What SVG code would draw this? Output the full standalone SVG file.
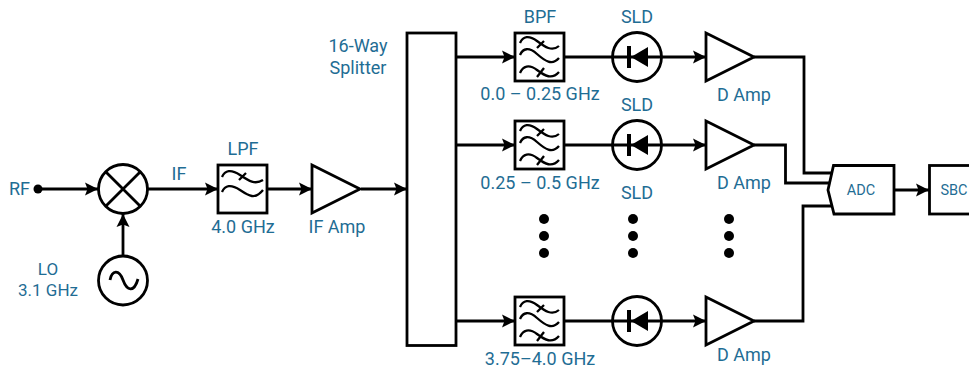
<svg xmlns="http://www.w3.org/2000/svg" width="969" height="369" viewBox="0 0 969 369">
<defs>
<marker id="arr" markerUnits="userSpaceOnUse" markerWidth="14" markerHeight="14" refX="13" refY="7" orient="auto"><path d="M0 0.500L13 7L0 13.500L2.500 7Z" fill="#000"/></marker>
<g id="bpf"><rect x="0" y="0" width="49" height="48" class="s"/><path class="l" d="M5 10C8 3 14 2 22 8S37 19 44 13M22 15L29 8M5 22C8 15 14 14 22 21S37 33 44 25M5 40C8 33 14 31 22 37S37 47 44 39M22 44L29 35"/></g>
<g id="sld"><circle cx="0" cy="0" r="24.500" class="n"/><path d="M-8-11V11" class="t"/><path d="M11-10V10L-6 0Z" fill="#000"/></g>
<g id="amp"><path d="M0-24V24L48 0Z" class="s"/></g>
</defs>
<style>
.s{fill:#fff;stroke:#000;stroke-width:2.800}
.n{fill:none;stroke:#000;stroke-width:2.800}
.l{fill:none;stroke:#000;stroke-width:2.300}
.t{fill:none;stroke:#000;stroke-width:4}
.c{fill:none;stroke:#000;stroke-width:2.800}
.a{marker-end:url(#arr)}
text{font-family:Roboto,"Noto Sans",sans-serif;font-size:18px;fill:#1f6d94;text-anchor:middle}
.m{font-size:14.500px}
.o{font-size:17px}
</style>
<rect width="969" height="369" fill="#fff"/>
<g id="connectors">
<path class="c a" d="M38 189H98"/>
<path class="c a" d="M147 189H218"/>
<path class="c a" d="M123 256V214"/>
<path class="c a" d="M267 189H312"/>
<path class="c a" d="M361 189H407"/>
<path class="c a" d="M456 57H515"/>
<path class="c a" d="M456 145H515"/>
<path class="c a" d="M456 321H515"/>
<path class="c a" d="M564 57H706"/>
<path class="c a" d="M564 145H706"/>
<path class="c a" d="M564 321H706"/>
<path class="c" d="M754 57H804V173H832"/>
<path class="c" d="M754 145H785.500V183H830"/>
<path class="c" d="M754 321H803V206H831"/>
<path class="c a" d="M894 190H929"/>
</g>
<g id="rf"><circle cx="38" cy="189" r="4.500" fill="#000"/><text x="19.500" y="195">RF</text></g>
<g id="mixer"><circle cx="123" cy="189" r="24.500" class="s"/><path class="c" d="M105.700 171.700L140.300 206.300M140.300 171.700L105.700 206.300"/><text x="179" y="180">IF</text></g>
<g id="lo"><circle cx="123" cy="280.500" r="24.500" class="s"/><path class="c" d="M110 280C112 270 119 269 123 280S134 293 138 279"/><text class="o" y="274.500"><tspan x="48">LO</tspan><tspan x="48" y="295.500">3.1 GHz</tspan></text></g>
<g id="lpf"><rect x="218" y="165" width="49" height="48" class="s"/><path class="l" d="M222 177C225 170 231 169 240 175S255 185 263 180M239 180L246 173M222 192C225 185 231 184 240 190S255 200 263 190"/><text x="243" y="155">LPF</text><text x="243" y="233">4.0 GHz</text></g>
<g id="ifamp"><use href="#amp" x="312" y="189"/><text x="337" y="233">IF Amp</text></g>
<g id="splitter"><rect x="407" y="33" width="49" height="312.500" class="s"/><text y="52"><tspan x="358">16-Way</tspan><tspan x="358" y="73.500">Splitter</tspan></text></g>
<g id="bpf1"><use href="#bpf" x="515" y="33"/><text x="540" y="23">BPF</text><text x="540" y="100">0.0 – 0.25 GHz</text></g>
<g id="bpf2"><use href="#bpf" x="515" y="121"/><text x="540" y="189">0.25 – 0.5 GHz</text></g>
<g id="bpf3"><use href="#bpf" x="515" y="297"/><text x="540" y="365">3.75–4.0 GHz</text></g>
<g id="sld1"><use href="#sld" x="637" y="57"/><text x="637" y="23">SLD</text></g>
<g id="sld2"><use href="#sld" x="637" y="145"/><text x="637" y="111">SLD</text></g>
<g id="sld3"><use href="#sld" x="637" y="321"/><text x="637" y="199">SLD</text></g>
<g id="amp1"><use href="#amp" x="706" y="57"/><text x="744" y="101">D Amp</text></g>
<g id="amp2"><use href="#amp" x="706" y="145"/><text x="744" y="189">D Amp</text></g>
<g id="amp3"><use href="#amp" x="706" y="321"/><text x="744" y="361">D Amp</text></g>
<g id="dots" fill="#000">
<circle cx="544" cy="219" r="5"/><circle cx="544" cy="236" r="5"/><circle cx="544" cy="253" r="5"/>
<circle cx="633" cy="219" r="5"/><circle cx="633" cy="236" r="5"/><circle cx="633" cy="253" r="5"/>
<circle cx="729" cy="219" r="5"/><circle cx="729" cy="236" r="5"/><circle cx="729" cy="253" r="5"/>
</g>
<g id="adc"><path class="s" d="M833.500 165.500H894V214H834L828 190Z"/><text x="861" y="195" class="m">ADC</text></g>
<g id="sbc"><rect x="929.500" y="165.500" width="60" height="48.500" class="s"/><text x="954" y="195" class="m">SBC</text></g>
</svg>
